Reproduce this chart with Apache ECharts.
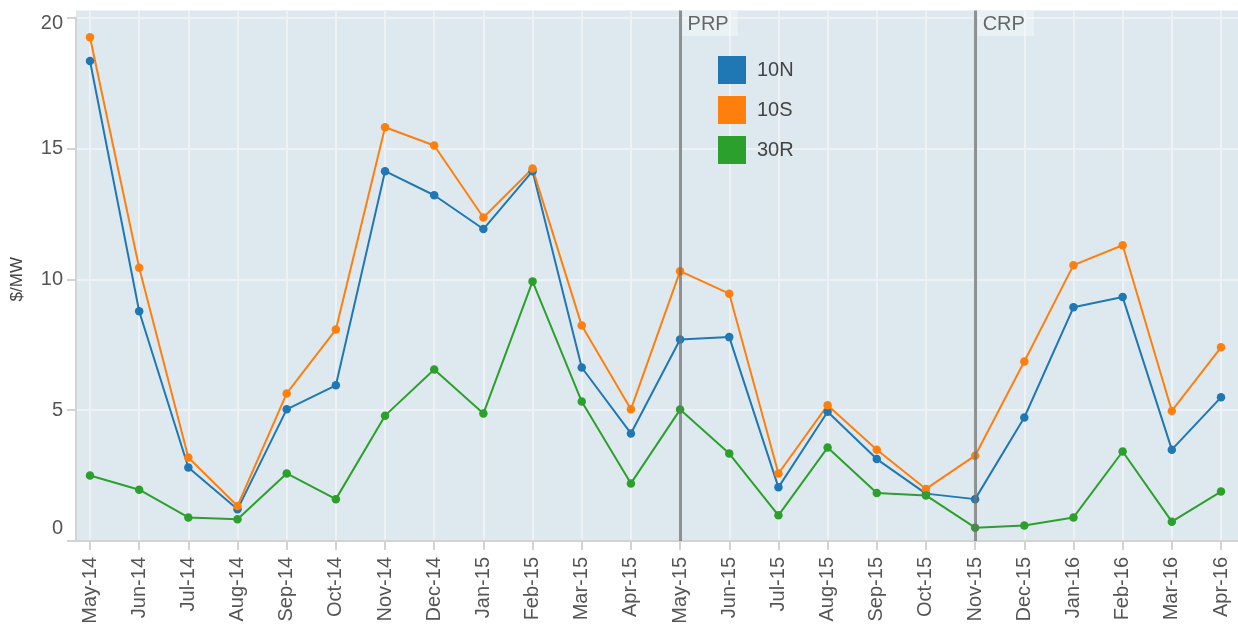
<!DOCTYPE html>
<html>
<head>
<meta charset="utf-8">
<script src="https://cdn.jsdelivr.net/npm/echarts@6.0.0/dist/echarts.min.js"></script>
<style>
  html, body { margin: 0; padding: 0; background: #fff; }
  #chart { width: 1238px; height: 627px; }
</style>
</head>
<body>
<div id="chart"></div>
<script>
var months = ['May-14', 'Jun-14', 'Jul-14', 'Aug-14', 'Sep-14', 'Oct-14', 'Nov-14', 'Dec-14',
    'Jan-15', 'Feb-15', 'Mar-15', 'Apr-15', 'May-15', 'Jun-15', 'Jul-15', 'Aug-15',
    'Sep-15', 'Oct-15', 'Nov-15', 'Dec-15', 'Jan-16', 'Feb-16', 'Mar-16', 'Apr-16'];

var price10N = [18.34, 8.78, 2.81, 1.21, 5.03, 5.95, 14.13, 13.21, 11.92, 14.13, 6.63, 4.11,
    7.70, 7.79, 2.05, 4.94, 3.13, 1.81, 1.60, 4.72, 8.93, 9.32, 3.49, 5.49];
var price10S = [19.25, 10.44, 3.19, 1.34, 5.64, 8.08, 15.81, 15.11, 12.36, 14.23, 8.23, 5.03,
    10.31, 9.45, 2.58, 5.19, 3.49, 1.99, 3.26, 6.86, 10.54, 11.30, 4.97, 7.40];
var price30R = [2.50, 1.96, 0.90, 0.83, 2.58, 1.60, 4.79, 6.55, 4.87, 9.92, 5.33, 2.20,
    5.02, 3.34, 0.98, 3.57, 1.83, 1.74, 0.51, 0.59, 0.90, 3.42, 0.74, 1.89];

var eventMonths = ['May-15', 'Nov-15'];
var eventNames = ['PRP', 'CRP'];

var yTicks = [0, 5, 10, 15, 20];

var FONT = '"Liberation Sans", Arial, sans-serif';
var TXT = '#555';
var GRIDLINE = '#eef2f4';
var AXIS = '#d3d3d3';
// the plot area reaches a little above the last tick
var yTop = 20.27;

var myChart = echarts.init(document.getElementById('chart'));

var lineSeries = function (name, values, color) {
    return {
        name: name,
        type: 'line',
        xAxisIndex: 2,
        yAxisIndex: 2,
        data: values,
        symbol: 'circle',
        symbolSize: 8.5,
        color: color,
        lineStyle: { width: 2, color: color },
        itemStyle: { color: color },
        z: 3
    };
};

var option = {
    animation: false,
    textStyle: { fontFamily: FONT },
    grid: [
        // background only
        { left: 76, right: 0, top: 10.5, bottom: 86, show: true, backgroundColor: '#dee9ef', borderWidth: 0 },
        // y axis, horizontal grid lines, axis lines
        { left: 76, right: 0, top: 17.5, bottom: 86 },
        // data
        { left: 90, right: 17, top: 10.5, bottom: 86 }
    ],
    legend: {
        data: ['10N', '10S', '30R'],
        orient: 'vertical',
        left: 718,
        top: 56,
        padding: 0,
        itemWidth: 28,
        itemHeight: 28,
        itemGap: 12,
        icon: 'rect',
        textStyle: { fontSize: 20, color: '#444', fontFamily: FONT, padding: [0, 0, 0, 6] }
    },
    xAxis: [
        { gridIndex: 0, type: 'value', show: false },
        {
            gridIndex: 1, type: 'value', min: 0, max: 1,
            axisLine: { show: true, lineStyle: { color: AXIS, width: 2 } },
            axisTick: { show: false },
            axisLabel: { show: false },
            splitLine: { show: false }
        },
        {
            gridIndex: 2, type: 'category', data: months, boundaryGap: false,
            axisLine: { show: false },
            axisTick: { show: true, length: 9, alignWithLabel: true, lineStyle: { color: AXIS, width: 2 } },
            axisLabel: { interval: 0, rotate: 90, margin: 16, fontSize: 20, color: TXT, fontFamily: FONT },
            splitLine: { show: true, interval: 0, lineStyle: { color: GRIDLINE, width: 2 } }
        }
    ],
    yAxis: [
        { gridIndex: 0, type: 'value', show: false },
        {
            gridIndex: 1, type: 'value', min: 0, max: 20, interval: 5,
            name: '$/MW',
            nameLocation: 'middle',
            nameGap: 50,
            nameTextStyle: { fontSize: 17, color: '#444', fontFamily: FONT },
            axisLine: { show: true, lineStyle: { color: AXIS, width: 2 } },
            axisTick: { show: true, length: 9, lineStyle: { color: AXIS, width: 2 } },
            axisLabel: {
                margin: 13,
                fontSize: 20,
                color: TXT,
                fontFamily: FONT,
                formatter: function (v) {
                    if (v === yTicks[0]) return '{lo|' + v + '}';
                    if (v === yTicks[yTicks.length - 1]) return '{hi|' + v + '}';
                    return String(v);
                },
                rich: {
                    lo: { fontSize: 20, color: TXT, fontFamily: FONT, padding: [0, 0, 26, 0] },
                    hi: { fontSize: 20, color: TXT, fontFamily: FONT, padding: [12, 0, 0, 0] }
                }
            },
            splitLine: { show: true, lineStyle: { color: GRIDLINE, width: 2 } }
        },
        { gridIndex: 2, type: 'value', min: 0, max: yTop, show: false }
    ],
    series: [
        lineSeries('10N', price10N, '#1f77b4'),
        lineSeries('10S', price10S, '#ff7f0e'),
        lineSeries('30R', price30R, '#2ca02c'),
        {
            name: 'events',
            type: 'scatter',
            xAxisIndex: 2,
            yAxisIndex: 2,
            symbolSize: 1,
            itemStyle: { color: 'rgba(0,0,0,0)' },
            data: eventMonths.map(function (m, i) { return { name: eventNames[i], value: [m, yTop] }; }),
            label: {
                show: true,
                position: [3, 1],
                formatter: '{b}',
                fontSize: 20,
                color: '#444',
                fontFamily: FONT,
                backgroundColor: 'rgba(255,255,255,0.45)',
                padding: [3, 9, 2, 5]
            },
            markLine: {
                silent: true,
                symbol: 'none',
                label: { show: false },
                lineStyle: { color: '#707070', width: 3, type: 'solid', opacity: 0.75 },
                data: eventMonths.map(function (m) { return { xAxis: m }; })
            },
            z: 5
        }
    ]
};

myChart.setOption(option);
</script>
</body>
</html>
